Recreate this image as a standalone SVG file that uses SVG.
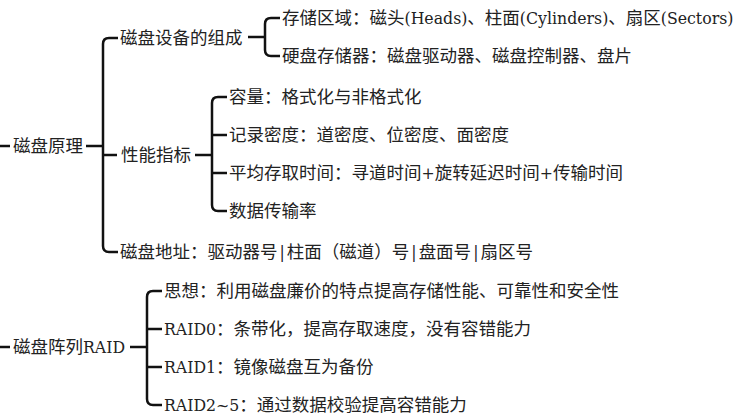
<svg xmlns="http://www.w3.org/2000/svg" width="746" height="420" viewBox="0 0 746 420">
<style>
text{font-family:"DejaVu Serif","Noto Sans CJK SC",serif;font-stretch:condensed;font-size:17.5px;fill:#222}
.c{fill:none;stroke:#111;stroke-width:2.5;stroke-linecap:butt}
</style>
<rect width="746" height="420" fill="#fff"/>
<g id="connectors" class="c">
<path d="M0 146H10"/>
<path d="M86 146H103"/>
<path d="M118 38H109Q103 38 103 44V246Q103 252 109 252H118"/>
<path d="M103 155H117"/>
<path d="M248 37H265"/>
<path d="M280 18H271Q265 18 265 24V50Q265 56 271 56H280"/>
<path d="M195 155H212"/>
<path d="M227 97H218Q212 97 212 103V205Q212 211 218 211H227"/>
<path d="M212 135H227M212 173H227"/>
<path d="M0 347H10"/>
<path d="M130 347H147"/>
<path d="M162 291H153Q147 291 147 297V399Q147 405 153 405H162"/>
<path d="M147 329H162M147 367H162"/>
</g>
<g id="n-root1"><text x="13" y="152">磁盘原理</text></g>
<g id="n-compose"><text x="120" y="44">磁盘设备的组成</text></g>
<g id="n-storage"><text x="282" y="24">存储区域：磁头(Heads)、柱面(Cylinders)、扇区(Sectors)</text></g>
<g id="n-hdd"><text x="282" y="62">硬盘存储器：磁盘驱动器、磁盘控制器、盘片</text></g>
<g id="n-perf"><text x="121" y="161">性能指标</text></g>
<g id="n-cap"><text x="229" y="103">容量：格式化与非格式化</text></g>
<g id="n-density"><text x="229" y="141">记录密度：道密度、位密度、面密度</text></g>
<g id="n-access"><text x="229" y="179">平均存取时间：寻道时间+旋转延迟时间+传输时间</text></g>
<g id="n-rate"><text x="229" y="217">数据传输率</text></g>
<g id="n-addr"><text x="120" y="258">磁盘地址：驱动器号<tspan dx="2">|</tspan><tspan dx="2">柱面（磁道）号</tspan><tspan dx="2">|</tspan><tspan dx="2">盘面号</tspan><tspan dx="2">|</tspan><tspan dx="2">扇区号</tspan></text></g>
<g id="n-root2"><text x="13" y="353">磁盘阵列RAID</text></g>
<g id="n-idea"><text x="164" y="297">思想：利用磁盘廉价的特点提高存储性能、可靠性和安全性</text></g>
<g id="n-raid0"><text x="164" y="335">RAID0：条带化，提高存取速度，没有容错能力</text></g>
<g id="n-raid1"><text x="164" y="373">RAID1：镜像磁盘互为备份</text></g>
<g id="n-raid25"><text x="164" y="411">RAID2~5：通过数据校验提高容错能力</text></g>
</svg>
